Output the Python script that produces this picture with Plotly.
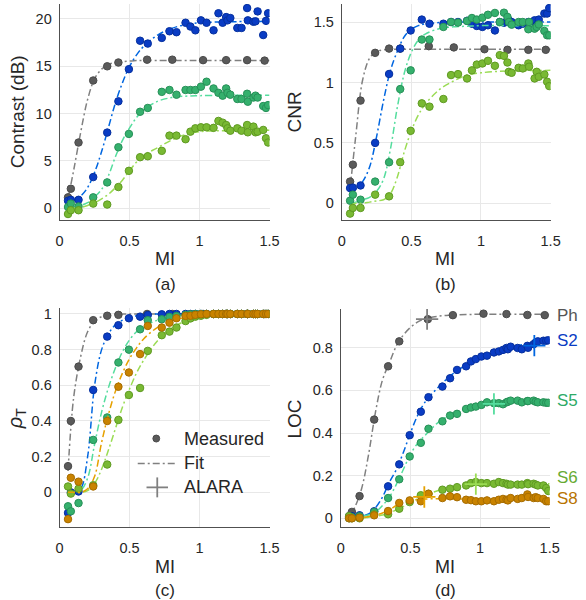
import plotly.graph_objects as go

# ---------------- data ----------------
MI = [0.06, 0.08, 0.135, 0.24, 0.34, 0.42, 0.495, 0.575, 0.63, 0.73, 0.785, 0.835, 0.90, 0.935, 0.97,
      1.01, 1.05, 1.10, 1.135, 1.165, 1.19, 1.20, 1.22, 1.27, 1.30, 1.34, 1.345, 1.385, 1.40, 1.415,
      1.455, 1.475, 1.49]
MI_PH = [0.06, 0.08, 0.135, 0.24, 0.34, 0.42, 0.625, 0.805, 1.025, 1.19, 1.34, 1.465]
FIT_X = [0.06, 0.1, 0.15, 0.2, 0.25, 0.3, 0.35, 0.4, 0.45, 0.5, 0.55, 0.6, 0.7, 0.8, 0.9, 1.0, 1.2, 1.5]

# (a) Contrast (dB)
CON_PH = [1.16, 2.07, 6.95, 13.5, 15.0, 15.4, 15.7, 15.7, 15.65, 15.65, 15.65, 15.6]
CON_S2 = [0.8, 0.9, 0.9, 3.3, 8.0, 11.3, 14.7, 17.7, 17.4, 18.0, 18.7, 18.6, 19.6, 19.2, 18.8, 19.85,
          19.6, 18.8, 20.6, 19.6, 20.2, 19.85, 20.1, 19.05, 19.05, 21.15, 19.85, 19.7, 19.75, 20.8,
          18.3, 19.8, 20.6]
CON_S5 = [0.14, 0.5, 0.2, 1.16, 2.74, 6.45, 7.86, 10.2, 10.6, 12.3, 12.5, 12.0, 12.5, 12.5, 12.5,
          12.85, 13.37, 12.66, 12.2, 11.9, 12.66, 12.2, 12.0, 11.55, 11.55, 12.1, 11.26, 11.7, 11.9,
          11.7, 10.8, 10.6, 10.9]
CON_S6 = [-0.6, -0.2, -0.2, 0.5, 0.4, 2.25, 3.96, 5.4, 5.5, 6.07, 7.68, 7.68, 7.3, 8.1, 8.45, 8.56,
          8.56, 8.5, 9.23, 9.05, 8.8, 8.45, 8.2, 8.45, 8.2, 8.8, 8.03, 8.63, 8.03, 8.1, 8.28, 7.4, 6.95]
CON_FIT_PH = [1.0, 4.0, 8.0, 11.5, 13.7, 14.7, 15.2, 15.4, 15.5, 15.55, 15.6, 15.6, 15.6, 15.6, 15.6,
              15.6, 15.6, 15.6]
CON_FIT_S2 = [0.8, 0.9, 1.3, 2.2, 3.8, 6.0, 8.6, 11.2, 13.3, 15.0, 16.2, 17.1, 18.3, 19.0, 19.4, 19.6,
              19.7, 19.75]
CON_FIT_S5 = [0.1, 0.15, 0.3, 0.6, 1.2, 2.0, 3.5, 5.5, 7.2, 8.5, 9.6, 10.4, 11.3, 11.7, 11.85, 11.9,
              11.95, 11.95]
CON_FIT_S6 = [-0.1, 0.0, 0.1, 0.3, 0.6, 1.0, 1.5, 2.2, 3.0, 4.0, 4.9, 5.6, 6.4, 7.2, 7.8, 8.1, 8.2, 8.25]

# (b) CNR
CNR_PH = [0.18, 0.32, 0.85, 1.245, 1.28, 1.28, 1.30, 1.29, 1.275, 1.27, 1.27, 1.27]
CNR_S2 = [0.126, 0.13, 0.148, 0.50, 1.07, 1.28, 1.43, 1.52, 1.486, 1.486, 1.50, 1.50, 1.51, 1.486,
          1.467, 1.459, 1.473, 1.43, 1.50, 1.494, 1.51, 1.514, 1.50, 1.473, 1.486, 1.50, 1.49, 1.514,
          1.473, 1.52, 1.57, 1.57, 1.615]
CNR_S5 = [0.022, 0.072, 0.03, 0.18, 0.34, 0.945, 1.10, 1.355, 1.355, 1.459, 1.50, 1.495, 1.509, 1.533,
          1.52, 1.536, 1.56, 1.575, 1.50, 1.577, 1.542, 1.50, 1.478, 1.50, 1.50, 1.44, 1.50, 1.445,
          1.459, 1.48, 1.426, 1.39, 1.39]
CNR_S6 = [-0.085, -0.038, -0.038, 0.072, 0.058, 0.34, 0.60, 0.827, 0.80, 0.863, 1.061, 1.069, 1.033,
          1.10, 1.148, 1.157, 1.179, 1.138, 1.226, 1.22, 1.165, 1.088, 1.08, 1.121, 1.116, 1.157, 1.13,
          1.033, 1.088, 1.047, 1.066, 1.006, 0.97]
CNR_FIT_PH = [0.12, 0.55, 1.02, 1.2, 1.255, 1.27, 1.275, 1.275, 1.275, 1.275, 1.275, 1.275, 1.275,
              1.275, 1.275, 1.275, 1.275, 1.275]
CNR_FIT_S2 = [0.1, 0.12, 0.18, 0.3, 0.55, 0.85, 1.1, 1.26, 1.38, 1.44, 1.47, 1.485, 1.495, 1.5, 1.5,
              1.5, 1.5, 1.5]
CNR_FIT_S5 = [0.0, 0.01, 0.03, 0.05, 0.1, 0.2, 0.45, 0.8, 1.08, 1.25, 1.35, 1.4, 1.445, 1.46, 1.465,
              1.47, 1.47, 1.47]
CNR_FIT_S6 = [-0.02, 0.0, 0.0, 0.01, 0.02, 0.03, 0.08, 0.22, 0.43, 0.6, 0.73, 0.82, 0.94, 1.01, 1.06,
              1.08, 1.095, 1.1]

# (c) rho_T
RHO_PH = [0.147, 0.40, 0.705, 0.965, 0.99, 0.995, 1.0, 1.0, 1.0, 1.0, 1.0, 1.0]
RHO_S2 = [-0.115, 0.0, 0.005, 0.574, 0.873, 0.937, 0.976, 0.985, 0.994, 0.998, 1.0, 1.0, 1.0, 1.0,
          1.0, 1.0, 1.0, 1.0, 1.0, 1.0, 1.0, 1.0, 1.0, 1.0, 1.0, 1.0, 1.0, 1.0, 1.0, 1.0, 1.0, 1.0, 1.0]
RHO_S5 = [-0.078, -0.106, -0.06, 0.294, 0.42, 0.728, 0.80, 0.914, 0.965, 0.97, 0.983, 0.989, 0.995,
          0.998, 1.0, 1.0, 1.0, 1.0, 1.0, 1.0, 1.0, 1.0, 1.0, 1.0, 1.0, 1.0, 1.0, 1.0, 1.0, 1.0, 1.0,
          1.0, 1.0]
RHO_S6 = [0.033, -0.007, 0.02, 0.04, 0.156, 0.406, 0.546, 0.585, 0.793, 0.881, 0.901, 0.924, 0.96,
          0.975, 0.985, 0.99, 0.995, 1.0, 1.0, 1.0, 1.0, 1.0, 1.0, 1.0, 1.0, 1.0, 1.0, 1.0, 1.0, 1.0,
          1.0, 1.0, 1.0]
RHO_S8 = [-0.15, 0.082, 0.06, 0.033, 0.40, 0.592, 0.672, 0.775, 0.933, 0.924, 0.951, 0.976, 0.989,
          0.99, 0.995, 0.998, 1.0, 1.0, 1.0, 1.0, 1.0, 1.0, 1.0, 1.0, 1.0, 1.0, 1.0, 1.0, 1.0, 1.0,
          1.0, 1.0, 1.0]
RHO_FIT_PH = [0.12, 0.53, 0.76, 0.9, 0.96, 0.985, 0.995, 1.0, 1.0, 1.0, 1.0, 1.0, 1.0, 1.0, 1.0, 1.0,
              1.0, 1.0]
RHO_FIT_S2 = [0.0, 0.0, 0.02, 0.2, 0.6, 0.8, 0.89, 0.94, 0.965, 0.98, 0.99, 0.995, 1.0, 1.0, 1.0, 1.0,
              1.0, 1.0]
RHO_FIT_S5 = [0.0, 0.0, 0.01, 0.08, 0.27, 0.45, 0.59, 0.7, 0.79, 0.855, 0.9, 0.93, 0.965, 0.985,
              0.995, 1.0, 1.0, 1.0]
RHO_FIT_S6 = [0.0, 0.0, 0.0, 0.01, 0.05, 0.13, 0.24, 0.36, 0.48, 0.58, 0.67, 0.74, 0.85, 0.92, 0.96,
              0.98, 0.995, 1.0]
RHO_FIT_S8 = [0.0, 0.0, 0.0, 0.02, 0.09, 0.28, 0.44, 0.57, 0.67, 0.75, 0.81, 0.86, 0.925, 0.96, 0.98,
              0.99, 1.0, 1.0]

# (d) LOC
LOC_PH = [0.01, 0.03, 0.104, 0.463, 0.713, 0.83, 0.934, 0.953, 0.96, 0.958, 0.954, 0.953]
LOC_S2 = [0.005, 0.01, 0.014, 0.033, 0.15, 0.253, 0.39, 0.50, 0.568, 0.618, 0.657, 0.696, 0.713, 0.736,
          0.747, 0.759, 0.763, 0.778, 0.783, 0.79, 0.799, 0.793, 0.805, 0.799, 0.793, 0.809, 0.80,
          0.817, 0.825, 0.83, 0.833, 0.833, 0.835]
LOC_S5 = [0.0, 0.005, 0.01, 0.03, 0.095, 0.183, 0.29, 0.354, 0.42, 0.455, 0.482, 0.49, 0.513, 0.52,
          0.524, 0.532, 0.544, 0.54, 0.54, 0.535, 0.544, 0.547, 0.552, 0.552, 0.544, 0.55, 0.55, 0.552,
          0.547, 0.544, 0.544, 0.542, 0.542]
LOC_S6 = [0.01, 0.0, 0.0, 0.019, 0.019, 0.045, 0.076, 0.108, 0.115, 0.134, 0.139, 0.146, 0.154, 0.165,
          0.17, 0.165, 0.165, 0.162, 0.17, 0.165, 0.162, 0.158, 0.158, 0.158, 0.158, 0.165, 0.16, 0.162,
          0.158, 0.154, 0.154, 0.142, 0.128]
LOC_S8 = [0.0, 0.0, 0.003, 0.014, 0.034, 0.072, 0.084, 0.08, 0.115, 0.095, 0.103, 0.099, 0.087, 0.085,
          0.08, 0.08, 0.084, 0.08, 0.087, 0.091, 0.087, 0.084, 0.095, 0.091, 0.095, 0.112, 0.10, 0.095,
          0.099, 0.095, 0.091, 0.08, 0.08]
LOC_FIT_PH = [0.0, 0.05, 0.14, 0.3, 0.5, 0.65, 0.73, 0.81, 0.86, 0.895, 0.92, 0.935, 0.948, 0.953,
              0.956, 0.957, 0.957, 0.957]
LOC_FIT_S2 = [0.005, 0.005, 0.01, 0.02, 0.05, 0.1, 0.17, 0.23, 0.31, 0.4, 0.48, 0.54, 0.615, 0.675,
              0.72, 0.755, 0.80, 0.835]
LOC_FIT_S5 = [0.0, 0.0, 0.01, 0.015, 0.03, 0.06, 0.1, 0.16, 0.23, 0.3, 0.35, 0.385, 0.45, 0.49, 0.515,
              0.53, 0.545, 0.55]
LOC_FIT_S6 = [0.0, 0.0, 0.0, 0.005, 0.01, 0.015, 0.025, 0.04, 0.055, 0.075, 0.09, 0.105, 0.13, 0.145,
              0.155, 0.16, 0.162, 0.162]
LOC_FIT_S8 = [0.0, 0.0, 0.003, 0.008, 0.015, 0.025, 0.04, 0.06, 0.075, 0.083, 0.087, 0.09, 0.092, 0.092,
              0.09, 0.09, 0.09, 0.09]

SERIES = ["Ph", "S2", "S5", "S6", "S8"]
ALARA_MI = [0.62, 1.39, 1.10, 0.97, 0.60]
ALARA_LOC = [0.934, 0.81, 0.537, 0.16, 0.10]
LABEL_Y = [0.953, 0.833, 0.552, 0.193, 0.094]

# ---------------- styles ----------------
MK = {"Ph": "#5a5a5a", "S2": "#0a3cc4", "S5": "#35b06d", "S6": "#79b933", "S8": "#c98300"}
EDGE = {"Ph": "#4a4a4a", "S2": "#06309e", "S5": "#279058", "S6": "#5f9a22", "S8": "#a66c00"}
FITC = {"Ph": "#808080", "S2": "#0066e0", "S5": "#55dd9e", "S6": "#9bdc55", "S8": "#e6a100"}
TXT = {"Ph": "#555555", "S2": "#0a3cc4", "S5": "#2eaa66", "S6": "#66aa33", "S8": "#b87400"}
DASH = "7px,3px,2px,3px"
W, H = 586, 600


def px(x):
    return x / W


def py(y):
    return 1 - y / H


fig = go.Figure()


def add(ax, key, xs, ys, fx, fy):
    xa = "x" if ax == 1 else "x%d" % ax
    ya = "y" if ax == 1 else "y%d" % ax
    fig.add_trace(go.Scatter(x=fx, y=fy, mode="lines", xaxis=xa, yaxis=ya, showlegend=False,
                             line=dict(color=FITC[key], width=1.5, dash=DASH, shape="spline"),
                             hoverinfo="skip"))
    fig.add_trace(go.Scatter(x=xs, y=ys, mode="markers", xaxis=xa, yaxis=ya, showlegend=False,
                             marker=dict(size=7.5, color=MK[key], line=dict(color=EDGE[key], width=1))))


panels = {
    1: [("Ph", MI_PH, CON_PH, CON_FIT_PH), ("S2", MI, CON_S2, CON_FIT_S2),
        ("S5", MI, CON_S5, CON_FIT_S5), ("S6", MI, CON_S6, CON_FIT_S6)],
    2: [("Ph", MI_PH, CNR_PH, CNR_FIT_PH), ("S2", MI, CNR_S2, CNR_FIT_S2),
        ("S5", MI, CNR_S5, CNR_FIT_S5), ("S6", MI, CNR_S6, CNR_FIT_S6)],
    3: [("Ph", MI_PH, RHO_PH, RHO_FIT_PH), ("S2", MI, RHO_S2, RHO_FIT_S2),
        ("S5", MI, RHO_S5, RHO_FIT_S5), ("S6", MI, RHO_S6, RHO_FIT_S6),
        ("S8", MI, RHO_S8, RHO_FIT_S8)],
    4: [("Ph", MI_PH, LOC_PH, LOC_FIT_PH), ("S2", MI, LOC_S2, LOC_FIT_S2),
        ("S5", MI, LOC_S5, LOC_FIT_S5), ("S6", MI, LOC_S6, LOC_FIT_S6),
        ("S8", MI, LOC_S8, LOC_FIT_S8)],
}
for ax, lst in panels.items():
    for key, xs, ys, fy in lst:
        add(ax, key, xs, ys, FIT_X, fy)

# ALARA crosses in (d)
for i, key in enumerate(SERIES):
    fig.add_trace(go.Scatter(x=[ALARA_MI[i]], y=[ALARA_LOC[i]], mode="markers", xaxis="x4", yaxis="y4",
                             showlegend=False, marker=dict(size=1, color="rgba(0,0,0,0)"),
                             error_x=dict(type="constant", value=0.08, width=0, thickness=1.8,
                                          color=FITC[key]),
                             error_y=dict(type="constant", value=0.05, width=0, thickness=1.8,
                                          color=FITC[key])))

FONT = "Liberation Sans, Arial, sans-serif"
TC = "#262626"


def xaxis(dom, anchor):
    return dict(domain=dom, anchor=anchor, range=[0, 1.5], tickvals=[0, 0.5, 1, 1.5],
                ticktext=["0", "0.5", "1", "1.5"], showgrid=True, gridcolor="#e8e8e8", gridwidth=1,
                zeroline=False, showline=True, linecolor="#505050", linewidth=1, ticks="outside",
                ticklen=7, tickcolor="rgba(0,0,0,0)", tickfont=dict(size=14.5, color=TC, family=FONT))


def yaxis(dom, anchor, rng, tv, tt):
    return dict(domain=dom, anchor=anchor, range=rng, tickvals=tv, ticktext=tt, showgrid=True,
                gridcolor="#e8e8e8", gridwidth=1, zeroline=False, showline=True, linecolor="#505050",
                linewidth=1, ticks="outside", ticklen=4, tickcolor="rgba(0,0,0,0)",
                tickfont=dict(size=14.5, color=TC, family=FONT))


D_X = (345, 559)          # pixel extent of panel (d) x axis
D_Y = (527, 308)          # pixel extent of panel (d) y axis (bottom, top)
D_RY = [-0.042, 0.982]

top_dom = [py(219), py(2)]
bot_dom = [py(527), py(307)]
fig.update_layout(
    width=W, height=H, autosize=False, margin=dict(l=0, r=0, t=0, b=0),
    paper_bgcolor="white", plot_bgcolor="white", font=dict(family=FONT, color=TC),
    xaxis=xaxis([px(57), px(272)], "y"),
    yaxis=yaxis(top_dom, "x", [-1.26, 21.58], [0, 5, 10, 15, 20], ["0", "5", "10", "15", "20"]),
    xaxis2=xaxis([px(346), px(560)], "y2"),
    yaxis2=yaxis(top_dom, "x2", [-0.14, 1.649], [0, 0.5, 1, 1.5], ["0", "0.5", "1", "1.5"]),
    xaxis3=xaxis([px(57), px(272)], "y3"),
    yaxis3=yaxis(bot_dom, "x3", [-0.1955, 1.0335], [0, 0.2, 0.4, 0.6, 0.8, 1],
                 ["0", "0.2", "0.4", "0.6", "0.8", "1"]),
    xaxis4=xaxis([px(D_X[0]), px(D_X[1])], "y4"),
    yaxis4=yaxis([py(D_Y[0]), py(D_Y[1])], "x4", D_RY, [0, 0.2, 0.4, 0.6, 0.8],
                 ["0", "0.2", "0.4", "0.6", "0.8"]),
)

ann = []


def text(x, y, s, size=16, color=TC, angle=0, xanchor="center"):
    ann.append(dict(x=px(x), y=py(y), xref="paper", yref="paper", text=s, showarrow=False,
                    font=dict(size=size, color=color, family=FONT), textangle=angle,
                    xanchor=xanchor, yanchor="middle"))


text(14, 110, "Contrast (dB)", 19, angle=-90)
text(298, 110, "CNR", 19, angle=-90)
text(13, 418, "<i>ρ</i><sub>T</sub>", 20, angle=-90)
text(298, 418, "LOC", 19, angle=-90)
for cx in (165, 452):
    text(cx, 258, "MI", 18)
    text(cx, 567, "MI", 18)
text(165, 283, "(a)", 17)
text(452, 283, "(b)", 17)
text(165, 590, "(c)", 17)
text(452, 590, "(d)", 17)

# right labels in (d), placed just past the x range at each series' level
lab_x = D_X[1] + 5
for i, key in enumerate(SERIES):
    ly = D_Y[0] + (LABEL_Y[i] - D_RY[0]) / (D_RY[1] - D_RY[0]) * (D_Y[1] - D_Y[0])
    text(lab_x, ly, key, 17, color=TXT[key], xanchor="left")

# legend in (c)
text(182, 438, "Measured", 18, xanchor="left")
text(182, 463, "Fit", 18, xanchor="left")
text(182, 487, "ALARA", 18, xanchor="left")
fig.update_layout(annotations=ann)

shapes = [
    dict(type="circle", xref="paper", yref="paper", x0=px(152.5), x1=px(159.5), y0=py(441.5),
         y1=py(434.5), fillcolor=MK["Ph"], line=dict(color=EDGE["Ph"], width=1)),
    dict(type="line", xref="paper", yref="paper", x0=px(137), x1=px(177), y0=py(463), y1=py(463),
         line=dict(color="#808080", width=1.6, dash=DASH)),
    dict(type="line", xref="paper", yref="paper", x0=px(146), x1=px(168), y0=py(487), y1=py(487),
         line=dict(color="#808080", width=1.8)),
    dict(type="line", xref="paper", yref="paper", x0=px(157), x1=px(157), y0=py(477), y1=py(497),
         line=dict(color="#808080", width=1.8)),
]
fig.update_layout(shapes=shapes)

fig.write_html("out.html", config={"displayModeBar": False},
               post_script="document.body.style.margin='0';")
